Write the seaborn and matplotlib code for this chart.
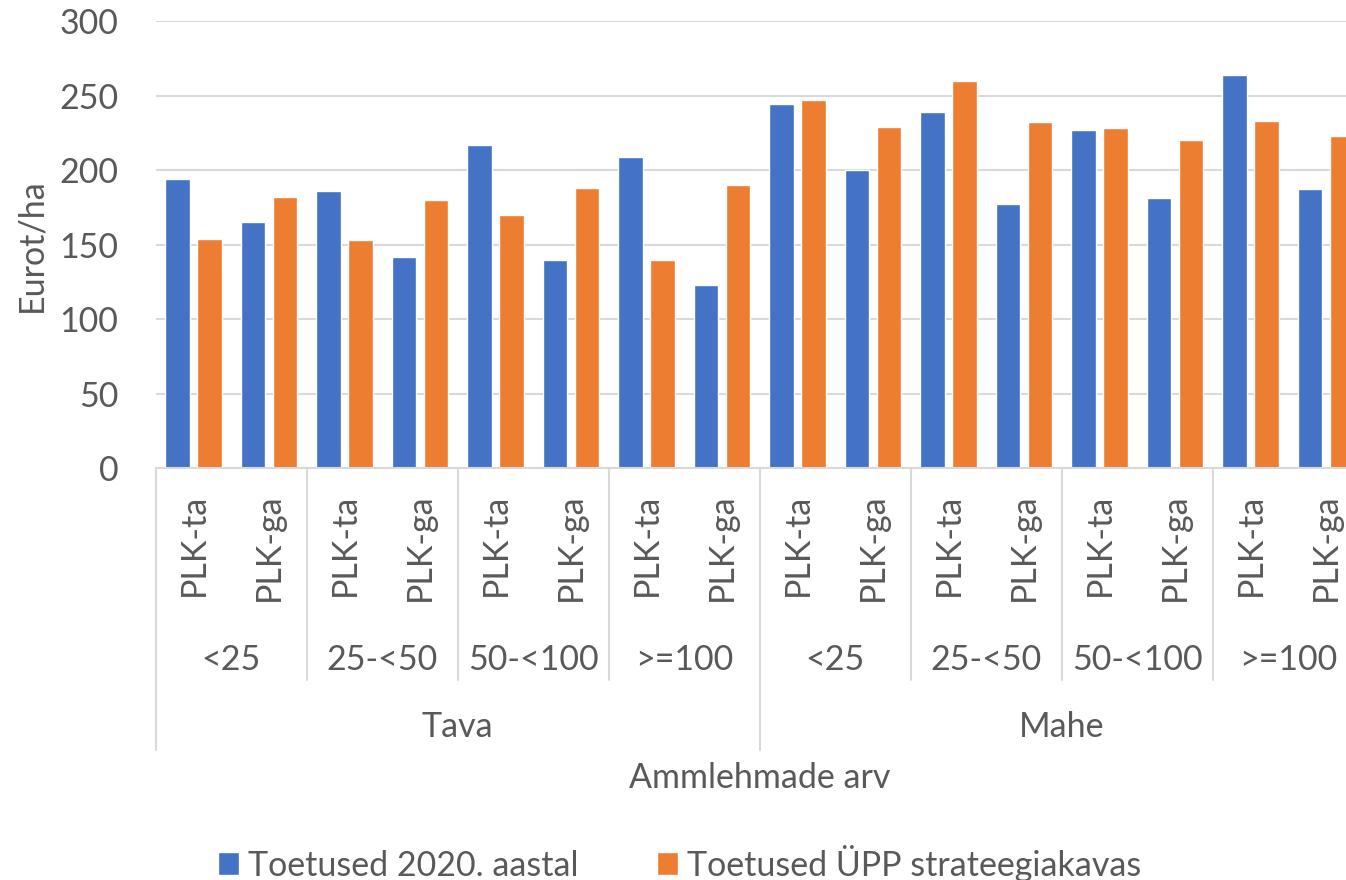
import matplotlib
matplotlib.use("Agg")
import matplotlib.pyplot as plt
import seaborn as sns
import pandas as pd

# ---- data ----
farm_types = ["Tava", "Mahe"]
herd_sizes = ["<25", "25-<50", "50-<100", ">=100"]
plk_labels = ["PLK-ta", "PLK-ga"]
series_names = ["Toetused 2020. aastal", "Toetused ÜPP strateegiakavas"]
toetused_2020 = [194, 165, 186, 142, 217, 140, 209, 123,
                 244, 200, 239, 177, 227, 181, 264, 187]
toetused_upp = [154, 182, 153, 180, 170, 188, 140, 190,
                247, 229, 260, 232, 228, 220, 233, 223]
y_ticks = [0, 50, 100, 150, 200, 250, 300]

BLUE = "#4472C4"
ORANGE = "#ED7D31"
GRAY_TXT = "#595959"
GRID = "#D9D9D9"
FS = 24.5

sns.set_theme(style="white")
plt.rcParams["font.family"] = ["Lato", "DejaVu Sans"]

cats = []
for t in farm_types:
    for h in herd_sizes:
        for p in plk_labels:
            cats.append(f"{t}|{h}|{p}")

rows = []
for i, c in enumerate(cats):
    rows.append({"cat": c, "series": series_names[0], "value": toetused_2020[i]})
    rows.append({"cat": c, "series": series_names[1], "value": toetused_upp[i]})
df = pd.DataFrame(rows)

W, H = 1346, 880
fig = plt.figure(figsize=(W / 100, H / 100), dpi=100)
left_px, right_px, top_px, bottom_px = 155.75, 1363.75, 21.0, 468.3
ax = fig.add_axes([left_px / W, (H - bottom_px) / H,
                   (right_px - left_px) / W, (bottom_px - top_px) / H])

sns.barplot(data=df, x="cat", y="value", hue="series", order=cats,
            hue_order=series_names, palette=[BLUE, ORANGE],
            width=0.848, gap=0.22, saturation=1, ax=ax, legend=True)

ax.set_ylim(0, 300)
ax.set_xlim(-0.5, len(cats) - 0.5)
ax.set_yticks(y_ticks)
ax.set_yticklabels([str(v) for v in y_ticks], color=GRAY_TXT, fontsize=FS)
ax.yaxis.grid(True, color=GRID, linewidth=1.5)
ax.set_axisbelow(True)
for s in ["top", "right", "left"]:
    ax.spines[s].set_visible(False)
ax.spines["bottom"].set_color(GRID)
ax.spines["bottom"].set_linewidth(1.5)
ax.tick_params(axis="y", length=0, pad=27)
ax.tick_params(axis="x", length=0, pad=18)

ax.set_xticks(range(len(cats)))
ax.set_xticklabels([c.split("|")[2] for c in cats], rotation=90,
                   color=GRAY_TXT, fontsize=FS, va="top", ha="center")
ax.set_xlabel("")
ax.set_ylabel("Eurot/ha", color=GRAY_TXT, fontsize=FS)
ax.yaxis.label.set_va("center")
ax.yaxis.set_label_coords((31 - left_px) / (right_px - left_px), 0.5)

axh = bottom_px - top_px
def yfrac(py):
    return (bottom_px - py) / axh

trans = ax.get_xaxis_transform()
n_sub = len(plk_labels)
n_grp = len(herd_sizes) * n_sub
# separators of the multi-level category axis
for k in range(0, len(cats) + 1, n_sub):
    x = k - 0.5
    y_end = yfrac(750) if k % n_grp == 0 else yfrac(680)
    ax.plot([x, x], [0, y_end], color=GRID, lw=1.5, transform=trans, clip_on=False)

# herd size labels
for gi in range(len(farm_types) * len(herd_sizes)):
    xc = gi * n_sub + (n_sub - 1) / 2
    ax.text(xc, yfrac(660), herd_sizes[gi % len(herd_sizes)], transform=trans,
            ha="center", va="center", fontsize=FS, color=GRAY_TXT)
# farm type labels
for ti, t in enumerate(farm_types):
    xc = ti * n_grp + (n_grp - 1) / 2
    ax.text(xc, yfrac(727), t, transform=trans, ha="center", va="center",
            fontsize=FS, color=GRAY_TXT)

ax.text((len(cats) - 1) / 2, yfrac(778), "Ammlehmade arv", transform=trans,
        ha="center", va="center", fontsize=FS, color=GRAY_TXT)

# legend
handles, labels = ax.get_legend_handles_labels()
ax.legend_.remove()
fig.legend(handles, labels, loc="center", bbox_to_anchor=(679.5 / W, 1 - 863 / H),
           ncol=2, frameon=False, fontsize=FS, labelcolor=GRAY_TXT,
           handlelength=0.62, handleheight=0.62, handletextpad=0.27,
           columnspacing=2.3)

fig.savefig("out.png", dpi=100)
